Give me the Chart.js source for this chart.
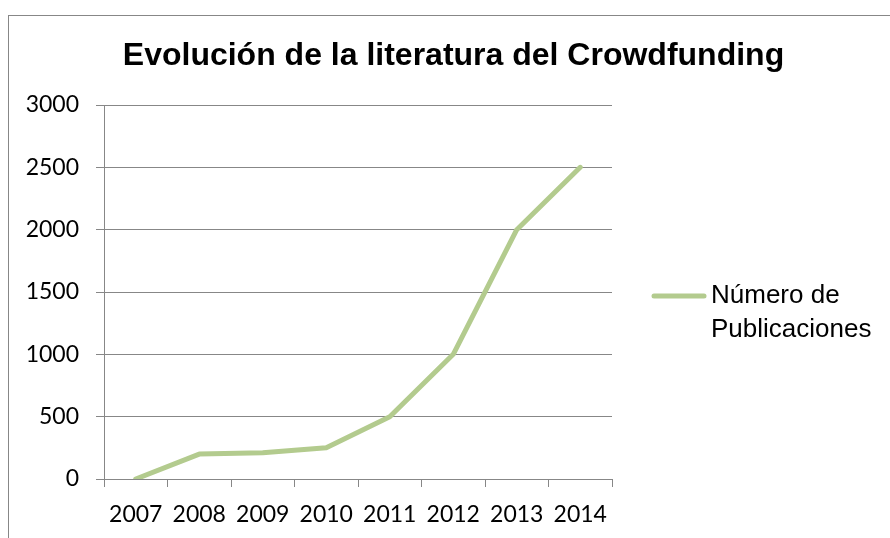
<!DOCTYPE html>
<html lang="es">
<head>
<meta charset="utf-8">
<title>Evolución de la literatura del Crowdfunding</title>
<script src="https://cdn.jsdelivr.net/npm/chart.js@4.4.1/dist/chart.umd.min.js"></script>
<style>
  html, body { margin: 0; padding: 0; background: #fff; }
  #wrap { width: 890px; height: 538px; }
  canvas { display: block; }
</style>
</head>
<body>
<div id="wrap"><canvas id="chart" width="890" height="538"></canvas></div>
<script>
// publications per year
const years = ["2007", "2008", "2009", "2010", "2011", "2012", "2013", "2014"];
const publicaciones = [0, 200, 210, 250, 500, 1000, 2000, 2500];
const yTicks = [0, 500, 1000, 1500, 2000, 2500, 3000];
const chartTitle = "Evolución de la literatura del Crowdfunding";
const seriesLabel = ["Número de", "Publicaciones"];

(function () {
  const GRID = "#878787";
  const LINE = "#b3cb8e";
  const AXIS_FONT = { family: "Lato, 'Open Sans', sans-serif", size: 23 };

  // outer frame, title and the one-entry legend on the right
  const decorations = {
    id: "decorations",
    beforeDraw(chart) {
      const ctx = chart.ctx;
      ctx.save();
      ctx.fillStyle = "#fff";
      ctx.fillRect(0, 0, chart.width, chart.height);
      ctx.strokeStyle = GRID;
      ctx.lineWidth = 1;
      ctx.strokeRect(8.5, 15.5, 1000, 1000);
      ctx.restore();
    },
    afterDraw(chart) {
      const ctx = chart.ctx;
      const ds = chart.data.datasets[0];
      ctx.save();
      ctx.fillStyle = "#000";
      ctx.font = "bold 32px 'Liberation Sans', Arial, sans-serif";
      ctx.textAlign = "center";
      ctx.textBaseline = "alphabetic";
      ctx.fillText(chartTitle, 453.5, 65);

      ctx.strokeStyle = ds.borderColor;
      ctx.lineWidth = ds.borderWidth;
      ctx.lineCap = "round";
      ctx.beginPath();
      ctx.moveTo(654, 296);
      ctx.lineTo(704, 296);
      ctx.stroke();

      ctx.font = "26px 'Liberation Sans', Arial, sans-serif";
      ctx.textAlign = "left";
      ctx.fillText(ds.label[0], 711, 303);
      ctx.fillText(ds.label[1], 711, 337);
      ctx.restore();
    }
  };

  new Chart(document.getElementById("chart"), {
    type: "line",
    data: {
      labels: years,
      datasets: [{
        label: seriesLabel,
        data: publicaciones,
        borderColor: LINE,
        borderWidth: 5,
        borderCapStyle: "round",
        borderJoinStyle: "round",
        pointRadius: 0,
        tension: 0,
        fill: false
      }]
    },
    options: {
      responsive: false,
      animation: false,
      layout: { padding: { top: 105, right: 278, left: 0, bottom: 0 } },
      plugins: { legend: { display: false }, title: { display: false }, tooltip: { enabled: false } },
      scales: {
        x: {
          offset: true,
          grid: { offset: true, drawOnChartArea: false, color: GRID, tickLength: 8 },
          border: { color: GRID },
          ticks: { color: "#000", font: AXIS_FONT, padding: 14, maxRotation: 0 },
          afterFit(scale) { scale.height = 59; }
        },
        y: {
          min: 0,
          max: 3000,
          grid: { color: GRID, tickLength: 8 },
          border: { color: GRID },
          ticks: { color: "#000", font: AXIS_FONT, padding: 17, callback: v => String(v) },
          afterBuildTicks(scale) { scale.ticks = yTicks.map(v => ({ value: v })); },
          afterFit(scale) { scale.width = 104; }
        }
      }
    },
    plugins: [decorations]
  });
})();
</script>
</body>
</html>
